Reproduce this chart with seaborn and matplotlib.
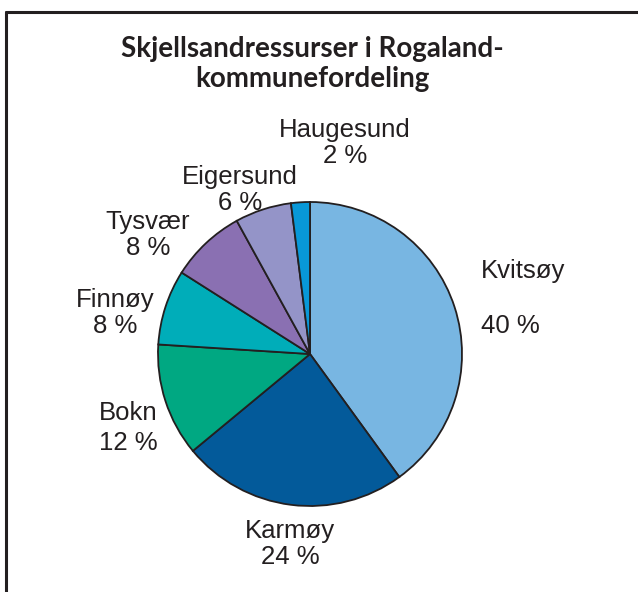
import numpy as np
import seaborn as sns
from matplotlib import pyplot as plt
from matplotlib.lines import Line2D

title = 'Skjellsandressurser i Rogaland-\nkommunefordeling'
kommuner = ['Kvitsøy', 'Karmøy', 'Bokn', 'Finnøy', 'Tysvær', 'Eigersund', 'Haugesund']
andel = [40, 24, 12, 8, 8, 6, 2]
farger = ['#78b6e2', '#035a9a', '#00a882', '#00adb9', '#8a70b2', '#9494c8', '#0898d8']

# label placement: distance from centre (radius units), angle nudge (deg), line spacing, alignment
label_dist = [1.185, 1.257, 1.292, 1.311, 1.322, 1.173, 1.407]
label_nudge = [0, 1.2, 4.1, 6.1, 10.5, 5.1, -13]
label_space = [2.6, 1.12, 1.35, 1.12, 1.12, 1.12, 1.12]
label_ha = ['left', 'center', 'center', 'center', 'center', 'center', 'center']

sns.set_style('white')
plt.rcParams['font.family'] = ['Liberation Sans', 'DejaVu Sans']

W, H, dpi = 638, 592, 100
fig = plt.figure(figsize=(W / dpi, H / dpi), dpi=dpi)

# pie centre at (310, 354) px, radius 152 px
cx, cy, r = 310, 354, 152
ax = fig.add_axes([0, 0, 1, 1])

wedges, _ = ax.pie(
    andel,
    colors=sns.color_palette(farger),
    startangle=90,
    counterclock=False,
    radius=1,
    wedgeprops=dict(edgecolor='#231f20', linewidth=1.3),
)
ax.set_aspect('auto')
ax.set_xlim(-cx / r, (W - cx) / r)
ax.set_ylim(-(H - cy) / r, cy / r)
ax.axis('off')

for w, navn, p, d, nudge, ls, ha in zip(
    wedges, kommuner, andel, label_dist, label_nudge, label_space, label_ha
):
    ang = np.deg2rad((w.theta1 + w.theta2) / 2 + nudge)
    ax.text(
        d * np.cos(ang), d * np.sin(ang), f'{navn}\n{p} %',
        ha=ha, va='center', multialignment='center' if ha == 'center' else 'left',
        fontsize=18.5, color='#231f20', linespacing=ls,
    )

fig.text(
    312 / W, 1 - 64 / H, title, ha='center', va='center',
    fontsize=20, fontweight='bold', family=['Lato', 'DejaVu Sans'],
    color='#231f20', linespacing=1.15,
)

# frame (top and left edges)
fig.add_artist(Line2D([6 / W, 1], [1 - 12 / H, 1 - 12 / H], transform=fig.transFigure,
                      color='#231f20', linewidth=2.2))
fig.add_artist(Line2D([6 / W, 6 / W], [0, 1 - 12 / H], transform=fig.transFigure,
                      color='#231f20', linewidth=2.2))

fig.savefig('out.png', dpi=dpi)
